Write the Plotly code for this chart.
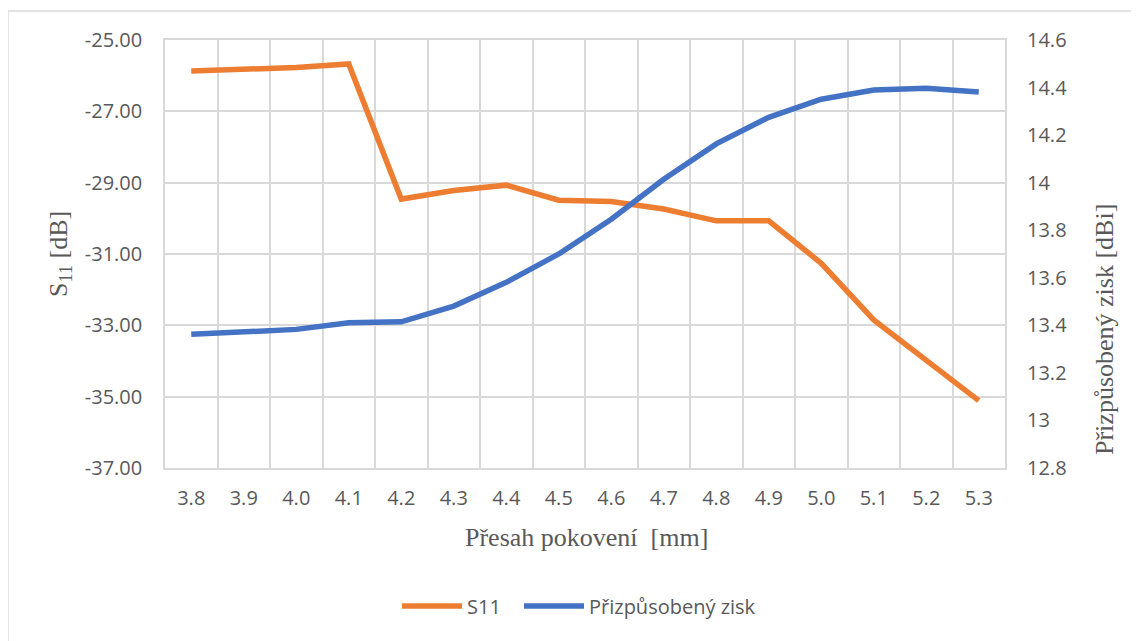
import plotly.graph_objects as go

categories = ["3.8", "3.9", "4.0", "4.1", "4.2", "4.3", "4.4", "4.5",
              "4.6", "4.7", "4.8", "4.9", "5.0", "5.1", "5.2", "5.3"]
s11_db = [-25.87, -25.83, -25.77, -25.67, -29.46, -29.22, -29.07, -29.49,
          -29.53, -29.74, -30.07, -30.07, -31.26, -32.85, -33.97, -35.11]
gain_dbi = [13.362, 13.373, 13.383, 13.411, 13.415, 13.481, 13.581, 13.700,
            13.846, 14.014, 14.163, 14.275, 14.351, 14.390, 14.397, 14.381]
s11_ticks = [-37, -35, -33, -31, -29, -27, -25]
gain_ticks = [12.8, 13.0, 13.2, 13.4, 13.6, 13.8, 14.0, 14.2, 14.4, 14.6]

W, H = 1139, 641
OFF = 8  # default page body margin
# plot area in page pixels
PL, PR, PT, PB = 165, 1005, 40, 468
L, T = PL - OFF, PT - OFF
pw, ph = PR - PL, PB - PT
R = W - L - pw
B = H - T - ph


def px(x):
    return (x - PL) / pw


def py(y):
    return (PB - y) / ph


ORANGE = "#ED7D31"
BLUE = "#4472C4"
GRID = "#D9D9D9"
TXT = "#595959"
TICKFONT = dict(family="Open Sans", size=20, color=TXT)
LEGFONT = dict(family="Open Sans", size=20, color=TXT)
SERIF = "Liberation Serif"

fig = go.Figure()
fig.add_trace(go.Scatter(x=categories, y=s11_db, name="S11", mode="lines",
                         line=dict(color=ORANGE, width=5.5), yaxis="y", legend="legend"))
fig.add_trace(go.Scatter(x=categories, y=gain_dbi, name="Přizpůsobený zisk", mode="lines",
                         line=dict(color=BLUE, width=5.5), yaxis="y2", legend="legend2"))

fig.update_layout(
    width=W, height=H,
    margin=dict(l=L, r=R, t=T, b=B),
    paper_bgcolor="white", plot_bgcolor="white",
    showlegend=True,
    legend=dict(orientation="h", x=px(397), xanchor="left", y=py(606), yanchor="middle",
                font=LEGFONT, itemwidth=60, bgcolor="rgba(0,0,0,0)"),
    legend2=dict(orientation="h", x=px(519), xanchor="left", y=py(606), yanchor="middle",
                 font=LEGFONT, itemwidth=60, bgcolor="rgba(0,0,0,0)"),
    xaxis=dict(type="category", range=[-0.5, 15.5], tickson="boundaries",
               showgrid=True, gridcolor=GRID, gridwidth=1.5, ticks="",
               showline=True, linecolor=GRID, linewidth=1.5, mirror=True,
               tickfont=TICKFONT, ticklabelstandoff=11, zeroline=False),
    yaxis=dict(range=[-37, -25], tickmode="array", tickvals=s11_ticks,
               ticktext=[f"{v:.2f}" for v in s11_ticks],
               showgrid=True, gridcolor=GRID, gridwidth=1.5, ticks="",
               showline=True, linecolor=GRID, linewidth=1.5, mirror=True,
               tickfont=TICKFONT, ticklabelstandoff=17, zeroline=False),
    yaxis2=dict(range=[12.8, 14.6], tickmode="array", tickvals=gain_ticks,
                ticktext=[f"{v:g}" for v in gain_ticks], overlaying="y", side="right",
                showgrid=False, ticks="", tickfont=TICKFONT, ticklabelstandoff=21,
                zeroline=False, showline=False),
    shapes=[dict(type="rect", xref="paper", yref="paper",
                 x0=px(8), x1=px(1160), y0=py(11), y1=py(670),
                 line=dict(color=GRID, width=1.3), fillcolor="rgba(0,0,0,0)", layer="below")],
    annotations=[
        dict(text="S<sub>11</sub> [dB]", xref="paper", yref="paper", x=px(60), y=py(254),
             xanchor="center", yanchor="middle", textangle=-90, showarrow=False,
             font=dict(family=SERIF, size=26, color=TXT)),
        dict(text="Přizpůsobený zisk [dBi]", xref="paper", yref="paper", x=px(1104), y=py(330),
             xanchor="center", yanchor="middle", textangle=-90, showarrow=False,
             font=dict(family=SERIF, size=26, color=TXT)),
        dict(text="Přesah pokovení  [mm]", xref="paper", yref="paper", x=px(586), y=py(537),
             xanchor="center", yanchor="middle", showarrow=False,
             font=dict(family=SERIF, size=26, color=TXT)),
    ],
)

fig.write_html("out.html")
